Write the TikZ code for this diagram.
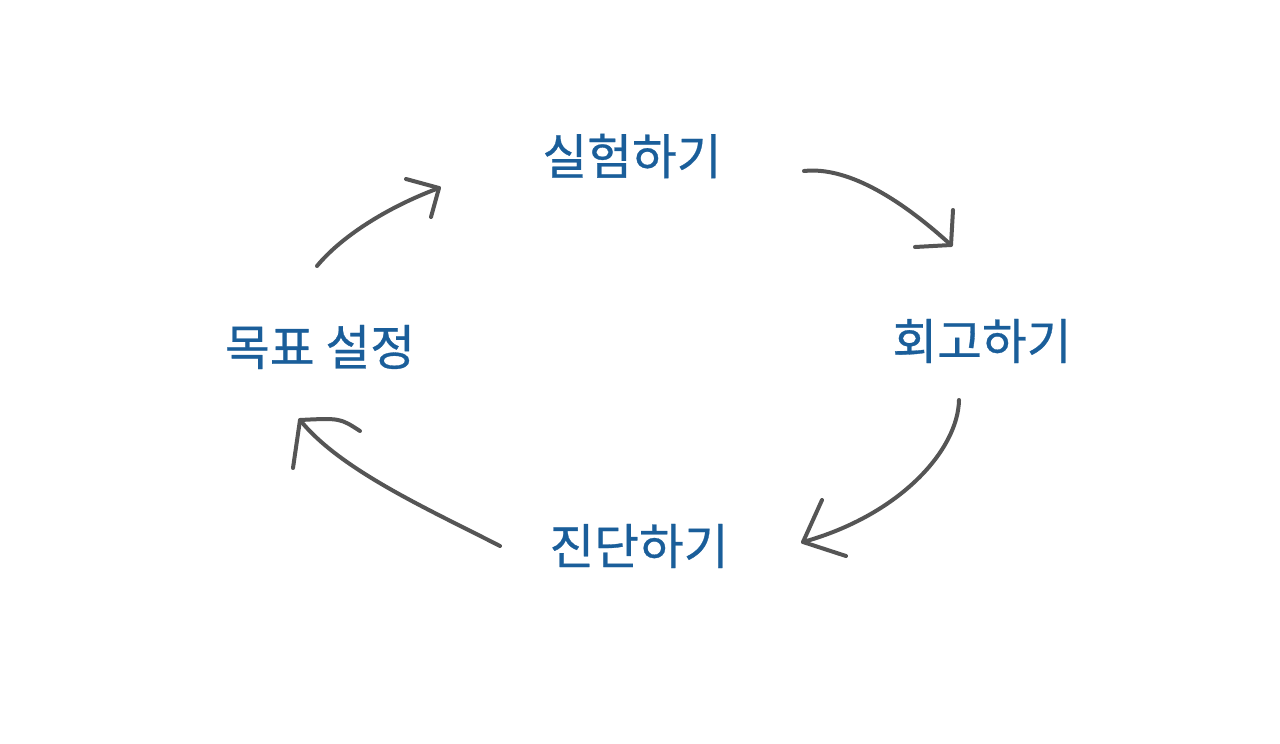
\documentclass[tikz,border=0pt]{standalone}
\usepackage{fontspec}
\newfontfamily\krfont[FakeBold=0.6]{Noto Sans CJK KR}
\definecolor{labelblue}{RGB}{26,94,154}
\definecolor{pencil}{RGB}{85,85,85}
\tikzset{
  lbl/.style={font=\krfont\fontsize{36.5}{40}\selectfont, text=labelblue, inner sep=0pt, anchor=center},
  sketch/.style={draw=pencil, line width=3pt, line cap=round, line join=round}
}
\begin{document}
\begin{tikzpicture}[x=0.75pt,y=-0.75pt]
\useasboundingbox (0,0) rectangle (1280,743);
\fill[white] (0,0) rectangle (1280,743);
\node[lbl] (exp) at (632,156) {실험하기};
\node[lbl] (ret) at (982,341) {회고하기};
\node[lbl] (diag) at (639,546) {진단하기};
\node[lbl] (goal) at (320,347) {목표 설정};
% arrow 1: goal -> exp
\coordinate (a1s) at (317,266);
\coordinate (a1e) at (439,188);
\coordinate (a1l) at (406,179);
\coordinate (a1r) at (431,217);
\draw[sketch] (a1s) .. controls (340,238) and (385,208) .. (a1e);
\draw[sketch] (a1l) -- (a1e) -- (a1r);
% arrow 2: exp -> ret
\coordinate (a2s) at (804,171);
\coordinate (a2e) at (951,245);
\coordinate (a2l) at (953,210);
\coordinate (a2r) at (915,247);
\draw[sketch] (a2s) .. controls (850,166) and (905,203) .. (a2e);
\draw[sketch] (a2l) -- (a2e) -- (a2r);
% arrow 3: ret -> diag
\coordinate (a3s) at (959,400);
\coordinate (a3e) at (803,542);
\coordinate (a3l) at (822,500);
\coordinate (a3r) at (846,556);
\draw[sketch] (a3s) .. controls (958,450) and (900,515) .. (a3e);
\draw[sketch] (a3l) -- (a3e) -- (a3r);
% arrow 4: diag -> goal
\coordinate (a4s) at (500,546);
\coordinate (a4e) at (300,420);
\coordinate (a4l) at (293,468);
\coordinate (a4r) at (360,431);
\draw[sketch] (a4s) .. controls (430,510) and (340,470) .. (a4e);
\draw[sketch] (a4l) -- (a4e) .. controls (340,418) .. (a4r);
\end{tikzpicture}
\end{document}
